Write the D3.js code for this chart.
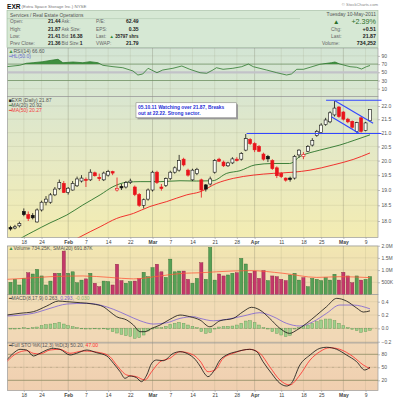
<!DOCTYPE html>
<html><head><meta charset="utf-8">
<script src="https://cdn.jsdelivr.net/npm/d3@7"></script>
<style>body{margin:0;background:#fff}svg{display:block}text{font-family:"Liberation Sans",Arial,sans-serif}</style>
</head><body><svg id="c" width="400" height="400"></svg>
<script>
// ---------- DATA ----------
const tickIdx = [3,7,13,17,22,27,32,36,41,46,51,55,61,66,70,75,80];
const tickLab = ["18","24","Feb","7","14","22","Mar","7","14","21","28","Apr","11","18","25","May","9"];

const openP  = [17.80,17.78,17.85,18.30,18.20,18.18,17.97,18.35,18.60,18.60,18.84,19.05,19.22,18.92,19.00,19.14,19.30,19.36,19.34,19.58,19.42,19.34,19.50,19.62,19.00,19.12,19.10,19.25,19.10,18.85,18.50,18.70,19.00,19.60,19.10,19.15,19.38,19.60,19.67,20.05,19.67,19.34,19.55,19.34,19.17,19.20,19.60,20.05,19.95,19.82,19.92,20.05,20.05,20.37,20.75,20.60,20.50,20.23,20.15,20.00,19.75,19.55,19.40,19.40,19.40,20.20,20.15,20.33,20.55,20.90,21.00,21.30,21.40,21.66,21.96,21.77,21.50,21.42,21.05,21.55,21.08,21.44];
const highP  = [17.85,17.88,17.98,18.40,18.30,18.25,18.40,18.65,18.80,18.90,19.10,19.35,19.30,19.10,19.30,19.45,19.50,19.42,19.70,19.62,19.55,19.62,19.68,19.65,19.42,19.20,19.30,19.38,19.15,18.90,18.72,19.05,19.65,19.65,19.20,19.42,19.65,19.80,20.20,20.10,19.72,19.72,19.75,19.38,19.20,19.45,20.05,20.10,20.00,19.96,20.12,20.12,20.30,20.95,20.80,20.65,20.55,20.28,20.20,20.05,19.80,19.60,19.42,19.45,20.20,20.40,20.30,20.55,20.80,21.10,21.35,21.55,21.80,22.19,22.00,21.80,21.55,21.45,21.40,21.60,21.40,21.87];
const lowP   = [17.70,17.74,17.80,18.15,18.00,18.05,17.95,18.30,18.50,18.55,18.80,19.00,18.90,18.85,18.98,19.10,19.25,19.10,19.30,19.45,19.30,19.30,19.45,19.50,18.95,19.00,19.05,19.20,18.80,18.45,18.40,18.65,18.95,19.20,18.98,19.10,19.33,19.55,19.62,19.80,19.45,19.30,19.50,18.75,18.95,19.15,19.55,19.95,19.78,19.78,19.88,19.97,20.00,20.33,20.55,20.30,20.30,20.00,19.95,19.68,19.40,19.40,19.28,19.28,19.35,20.10,20.05,20.30,20.50,20.85,20.95,21.25,21.35,21.60,21.55,21.45,21.35,21.15,21.00,21.00,21.05,21.41];
const closeP = [17.75,17.82,17.92,18.20,18.08,18.10,18.35,18.60,18.70,18.84,19.03,19.25,18.92,19.06,19.22,19.37,19.40,19.32,19.60,19.48,19.38,19.57,19.62,19.57,19.05,19.07,19.25,19.30,18.85,18.50,18.68,19.00,19.60,19.25,19.05,19.38,19.60,19.75,20.00,19.85,19.50,19.67,19.70,19.00,19.03,19.37,20.00,19.98,19.82,19.92,20.06,20.00,20.25,20.78,20.60,20.38,20.33,20.05,20.06,19.72,19.48,19.45,19.33,19.35,20.15,20.37,20.22,20.50,20.72,21.05,21.28,21.47,21.74,21.92,21.60,21.50,21.40,21.20,21.37,21.05,21.36,21.87];

const ma20At  = [1.8,2.9,5.1,8.9,12.7,16.3,20.2,23.1,26.2,29.2,33.7,38.2,41.9,45.6,48.7,51.7,55.1,59.2,62.9,65.2,69.7,74.2,77.6,81];
const ma20Val = [17.42,17.51,17.67,17.94,18.19,18.51,18.84,19.11,19.26,19.28,19.28,19.31,19.30,19.31,19.56,19.65,19.85,19.90,19.90,20.14,20.37,20.55,20.73,20.92];
const ma50At  = [14.5,15.7,20.2,23.9,27.7,31.4,35.2,39.7,42.7,46.4,50.2,54.7,59.2,63.7,67.5,72.7,77.2,81];
const ma50Val = [17.42,17.51,17.82,18.08,18.24,18.46,18.62,18.84,18.94,19.22,19.39,19.50,19.56,19.60,19.67,19.85,20.04,20.27];

// trendlines: [index1, price1, index2, price2]
const trendLines = [[53.2,20.97,83.6,20.97],[71.1,22.22,83.6,22.22],[73.1,22.20,81.7,21.35],[72.3,21.59,78.6,20.97]];

const rsiAt  = [-0.86,2.1,3.6,5.1,7.3,9.6,10.7,11.8,14.1,16.3,17.9,19.7,20.8,23.1,25.3,27.6,28.7,29.8,31,33,34.3,36.6,38.6,40.4,42.7,44.2,45.6,46.4,47.9,50.1,52.1,53.6,54.7,57.7,60,62.2,63.3,64.5,66,67.5,69.7,72.3,73.1,74.2,76.5,78,79.1,80.2,81];
const rsiVal = [63.7,67.1,72,73.4,75.9,80,81.7,73.4,75.1,73.4,75.9,73.4,67.1,63.7,61.2,53.2,43.4,45.9,59.8,49,55.6,59.8,65.4,57.3,49,47.6,55.6,61.2,57.3,59.8,63.7,70.2,63.7,55.6,49,43.4,45.9,57.3,57.3,62.2,69.5,73.4,75.1,70.2,63.7,62.2,58,63.7,66.6];

const volM  = [0.50,0.62,0.39,0.66,0.89,0.84,1.03,0.76,0.39,0.55,0.87,0.87,1.78,0.87,0.93,0.48,0.59,0.64,0.87,0.46,0.32,0.55,0.53,0.39,1.24,0.57,0.46,0.53,0.55,0.66,0.91,0.73,1.10,1.24,0.93,0.70,1.45,0.93,0.96,0.96,0.62,0.46,0.66,1.30,0.62,1.93,0.59,0.84,0.76,0.80,0.87,0.89,1.48,1.25,0.87,0.96,0.66,0.98,0.57,0.76,0.73,0.62,0.57,0.80,0.87,0.59,0.69,0.32,0.66,0.62,0.57,0.69,0.59,0.83,0.59,0.91,0.76,0.48,0.76,0.59,0.62,0.734];
const volUp = [1,1,1,1,0,1,1,1,1,1,0,1,0,1,1,1,1,0,1,0,0,1,1,0,0,0,1,1,0,0,1,1,1,0,0,1,1,1,1,0,0,1,1,0,1,1,1,0,0,1,1,0,1,1,0,0,0,0,1,0,0,0,0,1,1,1,0,1,1,1,1,1,1,1,0,0,0,0,1,0,1,1];
const vsmaAt  = [-0.9,2.9,8.9,16.3,22.4,27.7,33.7,38.9,42.7,46.4,53.9,61.4,69,74.2,81];
const vsmaVal = [0.62,0.66,0.73,0.76,0.70,0.64,0.76,0.87,0.89,0.93,0.98,0.87,0.70,0.73,0.692];

const macdAt  = [-0.86,2.14,5.14,8.15,10.8,12.7,15.7,18.6,20.9,22.4,23.9,26.2,27.7,29.2,30.3,31.8,33.7,35.9,38.2,40.4,42.7,44.9,47.2,50.2,52.4,54.3,56.2,58.4,60.7,62.9,64.5,66.7,69,71.2,73.5,75.7,78,79.5,81];
const macdVal = [0.20,0.226,0.25,0.335,0.41,0.40,0.385,0.365,0.325,0.25,0.175,0.125,0.05,-0.05,-0.05,0.0,0.05,0.135,0.20,0.175,0.125,0.024,0.114,0.15,0.25,0.316,0.275,0.15,0.0,-0.075,-0.026,0.075,0.20,0.325,0.45,0.41,0.305,0.245,0.263];
const sigAt   = [-0.86,5.14,8.9,12.7,17.2,20.2,23.2,26.2,29.2,32.2,35.2,38.2,41.2,42.7,45.7,48.7,52.4,56.2,59.2,62.2,65.2,68.2,71.2,74.2,77.2,81];
const sigVal  = [0.185,0.226,0.30,0.365,0.376,0.35,0.286,0.20,0.114,0.065,0.084,0.15,0.175,0.15,0.114,0.135,0.185,0.235,0.175,0.075,0.035,0.10,0.225,0.35,0.35,0.293];
const histVal = [-0.01,-0.01,0,0.01,0,0.01,0.02,0.04,0.055,0.065,0.075,0.09,0.065,0.04,0.025,0.01,0,-0.01,-0.01,0,-0.01,-0.005,-0.02,-0.05,-0.07,-0.09,-0.11,-0.12,-0.15,-0.14,-0.1,-0.04,-0.01,0.01,0.01,0.03,0.06,0.075,0.09,0.075,0.05,0.03,0.01,-0.05,-0.075,-0.065,-0.01,0.02,0.025,0.03,0.035,0.05,0.075,0.11,0.115,0.085,0.05,0.01,-0.01,-0.05,-0.075,-0.1,-0.125,-0.105,-0.01,0.01,0.025,0.05,0.075,0.1,0.125,0.14,0.14,0.115,0.075,0.04,0.01,-0.015,-0.035,-0.06,-0.05,-0.03];

const kAt  = [-0.86,0.63,2.14,3.65,5.14,6.64,8.15,9.64,11.15,13.4,14.9,17.2,19.4,21.7,23.2,24.7,25.8,26.9,28.4,29.5,30.7,31.8,32.9,34.4,36.7,38.2,40.4,41.3,42.7,43.8,44.5,45.7,47.2,48.7,50.9,53.9,55.5,56.9,58.8,60.7,62.2,63.3,65.2,67.5,69.7,71.2,73.5,75.7,78,79.8,81];
const kVal = [66.8,82.3,91.5,89.9,76.1,82.3,89.9,93.8,91.5,78.4,82.3,89.9,83.7,76.1,59.2,39.8,24.6,29.9,26,16.8,32.2,59.2,66.8,65.2,82.3,86,78.4,71.5,53,34.5,28.3,39.8,66.8,78.4,86,91.5,86,62.9,36.2,13.1,6.8,13.1,55.3,78.4,93.8,96.2,91.5,78.4,62.9,43.8,50.2];
const dAt  = [-0.86,1.4,3.65,5.14,6.64,8.9,11.15,13.4,16.4,20.2,22.4,23.9,26.2,28.4,30.3,31.8,33.7,35.9,38.2,41.2,42.7,44.5,46.1,47.9,50.2,53.9,56.2,58.4,60.7,62.9,65.2,67.5,69.7,71.9,74.2,77.2,79.5,81];
const dVal = [62.9,82.3,88.3,82.3,80.7,89.9,91.5,82.3,87.6,83.7,74.5,55.3,32.2,28.3,20.7,39.8,62.9,70.8,86,78.4,64.5,39.8,43.8,70.8,82.3,91.5,82.3,51.4,20.7,9.2,32.2,66.8,86,95.2,91.5,74.5,55.3,47.0];

const rsiTicks = [90,70,50,30,10];
const priceTicks = [22,21.5,21,20.5,20,19.5,19,18.5,18];
const volTicks = [2,1.5,1,0.5];
const volTickLab = ["2.0M","1.5M","1.0M","500K"];
const macdTicks = [0.4,0.2,0,-0.2];
const stoTicks = [80,50,20];

// ---------- LAYOUT ----------
const L = 7.5, R = 378;
const P = {rsi:[48,96.5], main:[96.5,237.5], vol:[246,294.5], macd:[294.5,343], sto:[343,390.5]};
const FONT = "Liberation Sans, Arial, sans-serif";

const x  = d3.scaleLinear().domain([0,81]).range([10.5,370]);
const yP = d3.scaleLog().domain([22,18]).range([106,221]);
const yR = d3.scaleLinear().domain([90,10]).range([55.9,88.7]);
const yV = d3.scaleLinear().domain([0,2]).range([294.5,245.7]);
const yM = d3.scaleLinear().domain([0.4,-0.2]).range([301.7,341.7]);
const yS = d3.scaleLinear().domain([80,20]).range([354.3,380.3]);

const svg = d3.select("#c");
const defs = svg.append("defs");
const gr = defs.append("linearGradient").attr("id","bg").attr("gradientUnits","userSpaceOnUse")
  .attr("x1",0).attr("y1",48).attr("x2",0).attr("y2",391);
[[0,"#d3e5d4"],[0.14,"#d9e6d0"],[0.32,"#e6e9c4"],[0.55,"#f3ecb2"],[0.6,"#f1e4b2"],[0.72,"#f1ddb6"],[0.86,"#f1d7b6"],[1,"#f0cfb0"]]
  .forEach(s=>gr.append("stop").attr("offset",s[0]).attr("stop-color",s[1]));

Object.entries(P).forEach(([k,[t,b]])=>{
  defs.append("clipPath").attr("id","cl-"+k).append("rect").attr("x",L).attr("y",t).attr("width",R-L).attr("height",b-t);
  svg.append("rect").attr("x",L).attr("y",t).attr("width",R-L).attr("height",b-t)
    .attr("fill","url(#bg)").attr("stroke","#9a9a9a").attr("stroke-width",0.7);
  svg.append("g").selectAll("line").data(tickIdx).join("line")
    .attr("x1",d=>x(d)).attr("x2",d=>x(d)).attr("y1",t).attr("y2",b)
    .attr("stroke",(d,i)=>isNaN(+tickLab[i])?"rgba(110,110,90,0.45)":"rgba(140,140,110,0.25)")
    .attr("stroke-width",0.6);
});

function hGrid(scale, vals){
  svg.append("g").selectAll("line").data(vals).join("line")
    .attr("x1",L).attr("x2",R).attr("y1",d=>scale(d)).attr("y2",d=>scale(d))
    .attr("stroke","rgba(140,140,110,0.25)").attr("stroke-width",0.6);
}
hGrid(yP, priceTicks); hGrid(yV, volTicks); hGrid(yM, macdTicks); hGrid(yR,[90,10]);

function rAxis(scale, vals, fmt){
  const a = svg.append("g").attr("transform",`translate(${R},0)`)
    .call(d3.axisRight(scale).tickValues(vals).tickSize(2).tickPadding(1.5).tickFormat(fmt));
  a.select(".domain").remove();
  a.attr("font-size",5).attr("font-family",FONT);
  a.selectAll("text").attr("fill","#555");
  a.selectAll("line").attr("stroke","#999").attr("stroke-width",0.6);
}
rAxis(yR, rsiTicks, d3.format("d"));
rAxis(yP, priceTicks, d3.format(".1f"));
rAxis(yV, volTicks, (d,i)=>volTickLab[i]);
rAxis(yM, macdTicks, d3.format(".1f"));
rAxis(yS, stoTicks, d3.format("d"));

function xAxis(y0){
  const a = svg.append("g").attr("transform",`translate(0,${y0})`)
    .call(d3.axisBottom(x).tickValues(tickIdx).tickSize(1.5).tickPadding(1.3).tickFormat((d,i)=>tickLab[i]));
  a.select(".domain").remove();
  a.attr("font-size",5).attr("font-family",FONT);
  a.selectAll("text").attr("fill","#444").attr("font-weight",(d,i)=>isNaN(+tickLab[i])?"bold":"normal");
  a.selectAll("line").attr("stroke","#999").attr("stroke-width",0.6);
}
xAxis(P.main[1]); xAxis(P.sto[1]);

const pts = (at,val)=>at.map((a,k)=>[a,val[k]]);

// ---------- RSI ----------
const rsiG = svg.append("g").attr("clip-path","url(#cl-rsi)");
rsiG.append("line").attr("x1",L).attr("x2",R).attr("y1",yR(50)).attr("y2",yR(50)).attr("stroke","#c2c2c8").attr("stroke-width",2.2);
[70,30].forEach(v=>rsiG.append("line").attr("x1",L).attr("x2",R).attr("y1",yR(v)).attr("y2",yR(v)).attr("stroke","#6f8f62").attr("stroke-width",0.8));
const rsiPts = pts(rsiAt,rsiVal);
defs.append("clipPath").attr("id","rsiHi").append("rect").attr("x",L).attr("y",P.rsi[0]).attr("width",R-L).attr("height",yR(70)-P.rsi[0]);
rsiG.append("g").attr("clip-path","url(#rsiHi)").append("path")
  .attr("d",d3.area().x(d=>x(d[0])).y0(yR(70)).y1(d=>yR(d[1]))(rsiPts)).attr("fill","#3f8f3f");
rsiG.append("path").attr("d",d3.line().x(d=>x(d[0])).y(d=>yR(d[1]))(rsiPts))
  .attr("fill","none").attr("stroke","#2e7a2e").attr("stroke-width",0.8);

// ---------- MAIN ----------
const mainG = svg.append("g").attr("clip-path","url(#cl-main)");
const lineP = d3.line().x(d=>x(d[0])).y(d=>yP(d[1])).curve(d3.curveMonotoneX);
mainG.append("path").attr("d",lineP(pts(ma50At,ma50Val))).attr("fill","none").attr("stroke","#f01e1e").attr("stroke-width",0.9);
mainG.append("path").attr("d",lineP(pts(ma20At,ma20Val))).attr("fill","none").attr("stroke","#2a742a").attr("stroke-width",0.9);

const candles = closeP.map((c,i)=>({i,o:openP[i],h:highP[i],l:lowP[i],c,pc:i?closeP[i-1]:c}));
const col = d=> d.c < d.pc ? "#e8141c" : "#111";
mainG.append("g").selectAll("line").data(candles).join("line")
  .attr("x1",d=>x(d.i)).attr("x2",d=>x(d.i)).attr("y1",d=>yP(d.h)).attr("y2",d=>yP(d.l))
  .attr("stroke",col).attr("stroke-width",0.8);
mainG.append("g").selectAll("rect").data(candles).join("rect")
  .attr("x",d=>x(d.i)-1.5).attr("width",3)
  .attr("y",d=>yP(Math.max(d.o,d.c)))
  .attr("height",d=>Math.max(0.8,Math.abs(yP(d.o)-yP(d.c))))
  .attr("fill",d=>d.c>=d.o?"#fbfbf4":col(d)).attr("stroke",col).attr("stroke-width",0.6);

svg.append("g").selectAll("line").data(trendLines).join("line")
  .attr("x1",d=>x(d[0])).attr("y1",d=>yP(d[1])).attr("x2",d=>x(d[2])).attr("y2",d=>yP(d[3]))
  .attr("stroke","#3347ff").attr("stroke-width",1.1);

// annotation
svg.append("rect").attr("x",137.5).attr("y",104.3).attr("width",100.5).attr("height",15).attr("fill","#9a9a9a");
svg.append("rect").attr("x",136).attr("y",102.8).attr("width",100.5).attr("height",15).attr("fill","#fff").attr("stroke","#777").attr("stroke-width",0.5);
const ann = svg.append("text").attr("font-size",4.9).attr("font-weight","bold").attr("fill","#1f2fd6");
ann.append("tspan").attr("x",138).attr("y",108.6).text("05.10.11 Watching over 21.87, Breaks");
ann.append("tspan").attr("x",138).attr("y",115.3).text("out at 22.22. Strong sector.");

// ---------- VOLUME ----------
const volG = svg.append("g").attr("clip-path","url(#cl-vol)");
volG.append("g").selectAll("rect").data(volM).join("rect")
  .attr("x",(d,i)=>x(i)-1.6).attr("width",3.2)
  .attr("y",d=>yV(d)).attr("height",d=>yV(0)-yV(d))
  .attr("fill",(d,i)=>volUp[i]?"#55a055":"#c4386a")
  .attr("stroke",(d,i)=>volUp[i]?"#2f6a2f":"#86203f").attr("stroke-width",0.4);
volG.append("path").attr("d",d3.line().x(d=>x(d[0])).y(d=>yV(d[1])).curve(d3.curveMonotoneX)(pts(vsmaAt,vsmaVal)))
  .attr("fill","none").attr("stroke","#ff5a3c").attr("stroke-width",0.8);

// ---------- MACD ----------
const macdG = svg.append("g").attr("clip-path","url(#cl-macd)");
macdG.append("line").attr("x1",L).attr("x2",R).attr("y1",yM(0)).attr("y2",yM(0)).attr("stroke","#b9ab8a").attr("stroke-width",0.6).attr("stroke-dasharray","2,1.5");
macdG.append("g").selectAll("rect").data(histVal).join("rect")
  .attr("x",(d,i)=>x(i)-1.4).attr("width",2.8)
  .attr("y",d=>Math.min(yM(0),yM(d))).attr("height",d=>Math.max(0.5,Math.abs(yM(d)-yM(0))))
  .attr("fill","#9fcf8c").attr("stroke","#5f9650").attr("stroke-width",0.4);
const lineM = d3.line().x(d=>x(d[0])).y(d=>yM(d[1])).curve(d3.curveMonotoneX);
macdG.append("path").attr("d",lineM(pts(sigAt,sigVal))).attr("fill","none").attr("stroke","#7b5fd6").attr("stroke-width",0.8);
macdG.append("path").attr("d",lineM(pts(macdAt,macdVal))).attr("fill","none").attr("stroke","#111").attr("stroke-width",0.8);

// ---------- STO ----------
const stoG = svg.append("g").attr("clip-path","url(#cl-sto)");
[80,20].forEach(v=>stoG.append("line").attr("x1",L).attr("x2",R).attr("y1",yS(v)).attr("y2",yS(v)).attr("stroke","#8c8c62").attr("stroke-width",0.8));
stoG.append("line").attr("x1",L).attr("x2",R).attr("y1",yS(50)).attr("y2",yS(50)).attr("stroke","#a99a78").attr("stroke-width",0.7).attr("stroke-dasharray","3,1,1,1");
const lineS = d3.line().x(d=>x(d[0])).y(d=>yS(d[1])).curve(d3.curveMonotoneX);
stoG.append("path").attr("d",lineS(pts(dAt,dVal))).attr("fill","none").attr("stroke","#ff2a2a").attr("stroke-width",0.8);
stoG.append("path").attr("d",lineS(pts(kAt,kVal))).attr("fill","none").attr("stroke","#111").attr("stroke-width",0.8);

// ---------- LEGENDS ----------
function legend(xx,yy,parts,fs){
  const t = svg.append("text").attr("x",xx).attr("y",yy).attr("font-size",fs||5);
  parts.forEach(p=>t.append("tspan").attr("fill",p[1]).attr("font-weight",p[2]||"normal").text(p[0]));
}
legend(8.5,53,[["▲","#3f8f3f"],["RSI(14) 66.60","#555"]]);
legend(8.5,58.3,[["━","#7b7bd8"],["HL(50.0)","#6f6fd0"]]);
legend(8.5,101.5,[["■","#222"],["EXR (Daily) 21.87","#555"]]);
legend(8.5,106.6,[["━","#2a742a"],["MA(20) 20.92","#555"]]);
legend(8.5,111.8,[["━","#f01e1e"],["MA(50) 20.27","#f04040"]]);
legend(8.5,250,[["▲","#3f8f3f"],["Volume 734.25K, SMA(20) 691.87K","#555"]]);
legend(8.5,299.5,[["━","#111"],["MACD(8,17,9) 0.263, ","#555"],["0.293, ","#7b5fd6"],["-0.030","#82b46a"]]);
legend(8.5,347.3,[["━","#111"],["Full STO %K(12,3) %D(3) 50.20, ","#555"],["47.00","#ff3030"]]);

// ---------- HEADER ----------
legend(7,8.6,[["EXR ","#111","bold"]],6.6);
svg.append("text").attr("x",21.5).attr("y",8.4).attr("font-size",4.4).attr("fill","#777").text("(Extra Space Storage Inc.) NYSE");
svg.append("text").attr("x",378).attr("y",6).attr("font-size",4.2).attr("fill","#888").attr("text-anchor","end").text("© StockCharts.com");
svg.append("rect").attr("x",7).attr("y",10.5).attr("width",371).attr("height",37).attr("fill","#d6e8d4").attr("stroke","#9cb89c").attr("stroke-width",0.6);
svg.append("line").attr("x1",7).attr("x2",300).attr("y1",18.6).attr("y2",18.6).attr("stroke","#a8c0a8").attr("stroke-width",0.5);
svg.append("text").attr("x",10).attr("y",16.6).attr("font-size",4.9).attr("fill","#555").text("Services / Real Estate Operations");

const hdrRows = [23.3,30.6,37.6,45];
const lab1 = ["Open:","High:","Low:","Prev Close:"], val1 = ["21.44","21.87","21.41","21.36"];
const lab2 = ["Ask:","Ask Size:","Bid:","Bid Size:"], val2 = ["","","16.38","1"];
const lab3 = ["P/E:","EPS:","Last:","VWAP:"], val3 = ["62.49","0.35","35797 shrs","21.79"];
hdrRows.forEach((yy,k)=>{
  svg.append("text").attr("x",10).attr("y",yy).attr("font-size",4.8).attr("fill","#666").text(lab1[k]);
  svg.append("text").attr("x",60.5).attr("y",yy).attr("font-size",5).attr("font-weight","bold").attr("fill","#222").attr("text-anchor","end").text(val1[k]);
  svg.append("text").attr("x",61.5).attr("y",yy).attr("font-size",4.6).attr("fill","#666").text(lab2[k]);
  svg.append("text").attr("x",82.5).attr("y",yy).attr("font-size",5).attr("font-weight","bold").attr("fill","#222").attr("text-anchor","end").text(val2[k]);
  svg.append("text").attr("x",96).attr("y",yy).attr("font-size",4.8).attr("fill","#666").text(lab3[k]);
  svg.append("text").attr("x",138.5).attr("y",yy).attr("font-size",k===2?4.5:5).attr("font-weight","bold").attr("fill","#222").attr("text-anchor","end").text(val3[k]);
});
svg.append("text").attr("x",109.5).attr("y",37.6).attr("font-size",4.4).attr("fill","#2f8a2f").text("▲");

svg.append("text").attr("x",376).attr("y",15.6).attr("font-size",5).attr("fill","#555").attr("text-anchor","end").text("Tuesday 10-May-2011");
svg.append("text").attr("x",333).attr("y",24).attr("font-size",6.5).attr("fill","#2a6e2a").text("▲");
svg.append("text").attr("x",376).attr("y",23.8).attr("font-size",7.2).attr("fill","#2a6e2a").attr("text-anchor","end").text("+2.39%");
const rl = [["Chg:","+0.51",30.6,331],["Last:","21.87",37.6,331],["Volume:","734,252",45,322]];
rl.forEach(r=>{
  svg.append("text").attr("x",r[3]).attr("y",r[2]).attr("font-size",4.9).attr("fill","#666").text(r[0]);
  svg.append("text").attr("x",376).attr("y",r[2]).attr("font-size",5.3).attr("font-weight","bold").attr("fill","#222").attr("text-anchor","end").text(r[1]);
});
</script></body></html>
